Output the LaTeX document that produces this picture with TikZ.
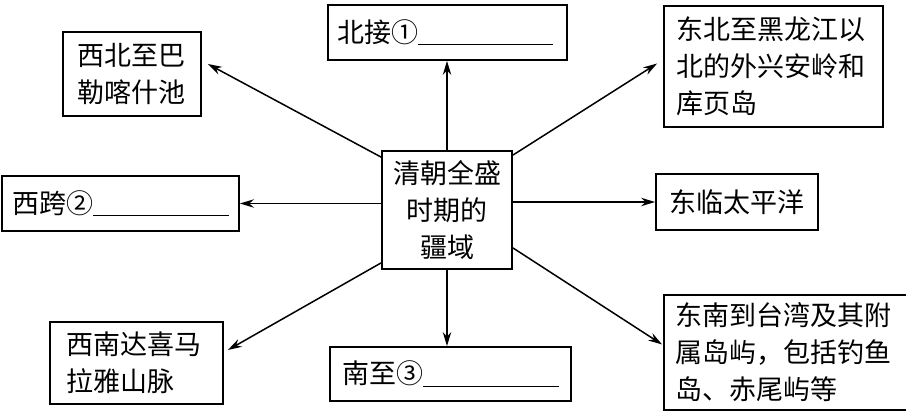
\documentclass[tikz,border=0pt]{standalone}
\usepackage{fontspec}
\newfontfamily\cjk{Noto Sans CJK SC}
\usetikzlibrary{arrows.meta,calc}
\tikzset{
  box/.style={draw, line width=0.9pt, inner ysep=0pt, align=left,
    font=\cjk\fontsize{13.5}{18.5}\selectfont},
  conn/.style={line width=0.75pt, -{Stealth[length=7pt,width=4.2pt]}}
}
\newcommand{\blankline}[1]{\rule[-1.5pt]{#1}{0.6pt}}
\begin{document}
\begin{tikzpicture}[x=0.5pt,y=-0.5pt]
\useasboundingbox (0,0) rectangle (906,411);
\node[box, align=center, inner xsep=0pt, text width=65pt, minimum height=59pt] (center) at (447,210) {清朝全盛\\时期的\\疆域};
\node[box, inner xsep=4.5pt, text width=110.5pt, minimum height=27.5pt] (north) at (447.5,32.5) {北接①\blankline{67.5pt}};
\node[box, inner xsep=7pt, text width=55pt, minimum height=42pt] (northwest) at (132,74) {西北至巴\\勒喀什池};
\node[box, inner xsep=6pt, text width=97.5pt, minimum height=60.5pt] (northeast) at (773.5,66.5) {东北至黑龙江以\\北的外兴安岭和\\库页岛};
\node[box, inner xsep=5pt, text width=108.5pt, minimum height=27.5pt] (west) at (120.5,203.5) {西跨②\blankline{68pt}};
\node[box, align=center, inner xsep=0pt, text width=81pt, minimum height=28pt] (east) at (737,202) {东临太平洋};
\node[box, inner xsep=8.5pt, text width=69.5pt, minimum height=41pt] (southwest) at (136.5,363) {西南达喜马\\拉雅山脉};
\node[box, inner xsep=6pt, text width=108.5pt, minimum height=27pt] (south) at (450.5,374) {南至③\blankline{68pt}};
\node[box, inner xsep=5.5pt, text width=113pt, minimum height=57.5pt] (southeast) at (788,352.5) {东南到台湾及其附\\属岛屿，包括钓鱼\\岛、赤尾屿等};
\draw[conn] (center.north) -- (center.north |- north.south);
\draw[conn] ($(center.north west)+(0,7)$) -- ($(northwest.east)+(6,-10)$);
\draw[conn] ($(center.north east)+(0,5)$) -- ($(northeast.west)+(-6,-3)$);
\draw[conn] (center.west |- west.east) -- (west.east);
\draw[conn] (center.east |- east.west) -- (east.west);
\draw[conn] ($(center.south west)+(0,-7)$) -- ($(southwest.east)+(4,-13)$);
\draw[conn] (center.south) -- (center.south |- south.north);
\draw[conn] ($(center.south east)+(0,-22)$) -- ($(southeast.west)+(-1,-8)$);
\end{tikzpicture}
\end{document}
